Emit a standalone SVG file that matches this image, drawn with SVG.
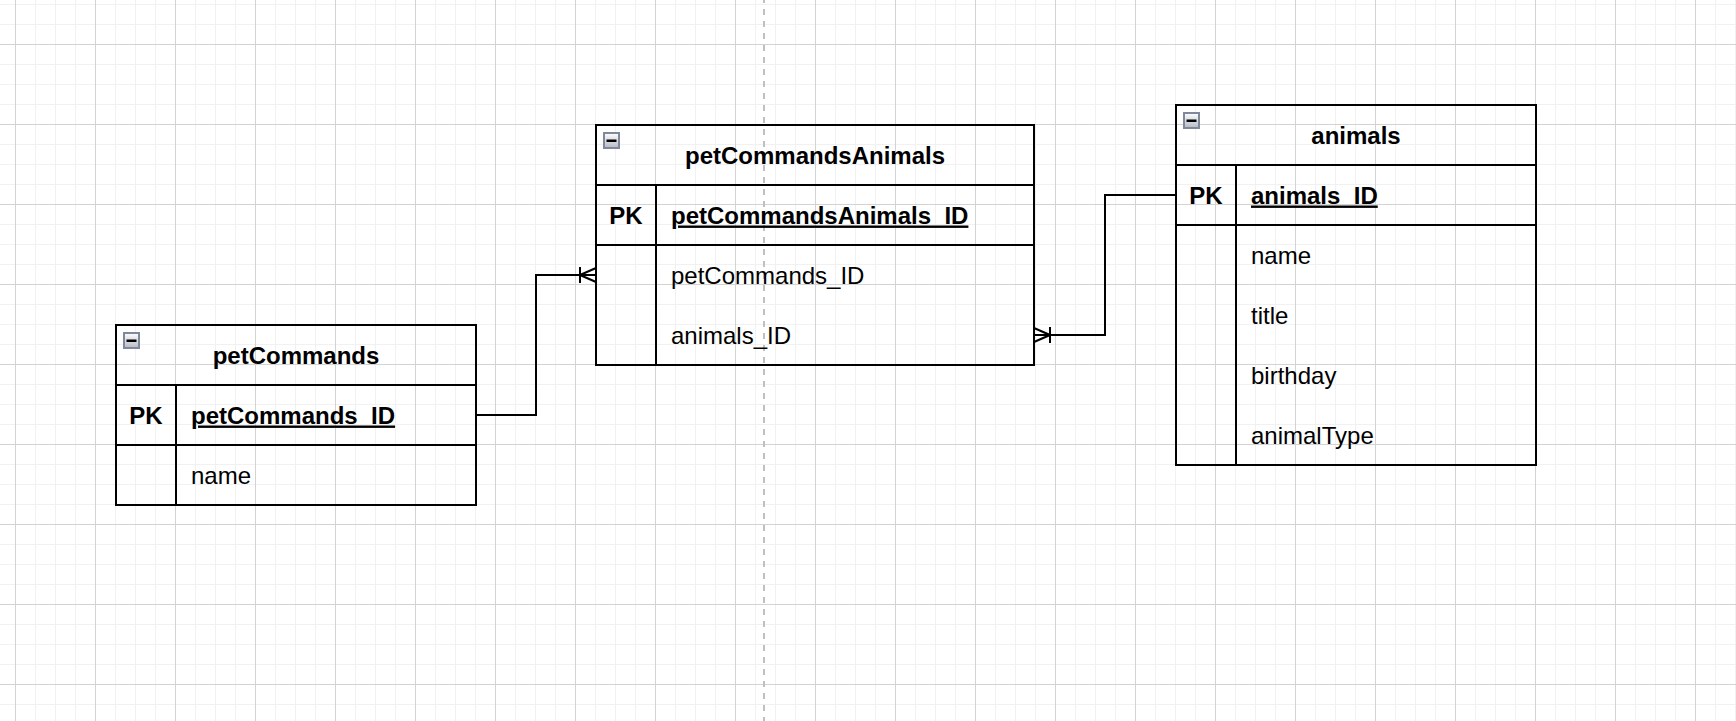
<svg xmlns="http://www.w3.org/2000/svg" width="1736" height="721" viewBox="0 0 1736 721">
<style>
.box{fill:none;stroke:#000;stroke-width:2}
.ln{stroke:#000;stroke-width:2;fill:none}
.t{font-family:"Liberation Sans",Arial,sans-serif;font-size:24px;fill:#000}
.b{font-weight:bold}
.c{text-anchor:middle}
.u{text-decoration:underline}
.edge{fill:none;stroke:#000;stroke-width:2}
</style>
<defs>
<pattern id="minor" x="15" y="4" width="20" height="20" patternUnits="userSpaceOnUse">
<path d="M0 0.5H20M0.5 0V20" stroke="#f1f1f1" stroke-width="1" fill="none"/>
</pattern>
<pattern id="major" x="15" y="44" width="80" height="80" patternUnits="userSpaceOnUse">
<path d="M0 0.5H80M0.5 0V80" stroke="#d3d3d3" stroke-width="1" fill="none"/>
</pattern>
<linearGradient id="ig" x1="0" y1="0" x2="0" y2="1">
<stop offset="0" stop-color="#ffffff"/>
<stop offset="1" stop-color="#b5b9c3"/>
</linearGradient>
<g id="icon">
<rect x="1" y="1" width="15" height="15" fill="url(#ig)" stroke="#7f899b" stroke-width="2"/>
<rect x="3.5" y="7.5" width="10" height="2.5" fill="#000"/>
</g>
</defs>
<rect width="1736" height="721" fill="#fff"/>
<rect width="1736" height="721" fill="url(#minor)"/>
<rect width="1736" height="721" fill="url(#major)"/>
<line x1="764" y1="-3" x2="764" y2="721" stroke="#c0c0c0" stroke-width="2" stroke-dasharray="6 6"/>

<g id="connectors">
<path class="edge" d="M476 415H536V275H596"/>
<path class="edge" d="M580 267V283M580 275L596 268M580 275L596 282"/>
<path class="edge" d="M1176 195H1105V335H1034"/>
<path class="edge" d="M1050 327V343M1050 335L1034 328M1050 335L1034 342"/>
</g>

<g id="petCommands">
<rect class="box" x="116" y="325" width="360" height="180"/>
<path class="ln" d="M116 385H476M116 445H476M176 385V505"/>
<use href="#icon" x="123" y="332"/>
<text class="t b c" x="296" y="363.5">petCommands</text>
<text class="t b c" x="146" y="423.5">PK</text>
<text class="t b u" x="191" y="423.5">petCommands_ID</text>
<text class="t" x="191" y="483.5">name</text>
</g>

<g id="petCommandsAnimals">
<rect class="box" x="596" y="125" width="438" height="240"/>
<path class="ln" d="M596 185H1034M596 245H1034M656 185V365"/>
<use href="#icon" x="603" y="132"/>
<text class="t b c" x="815" y="163.5">petCommandsAnimals</text>
<text class="t b c" x="626" y="223.5">PK</text>
<text class="t b u" x="671" y="223.5">petCommandsAnimals_ID</text>
<text class="t" x="671" y="283.5">petCommands_ID</text>
<text class="t" x="671" y="343.5">animals_ID</text>
</g>

<g id="animals">
<rect class="box" x="1176" y="105" width="360" height="360"/>
<path class="ln" d="M1176 165H1536M1176 225H1536M1236 165V465"/>
<use href="#icon" x="1183" y="112"/>
<text class="t b c" x="1356" y="143.5">animals</text>
<text class="t b c" x="1206" y="203.5">PK</text>
<text class="t b u" x="1251" y="203.5">animals_ID</text>
<text class="t" x="1251" y="263.5">name</text>
<text class="t" x="1251" y="323.5">title</text>
<text class="t" x="1251" y="383.5">birthday</text>
<text class="t" x="1251" y="443.5">animalType</text>
</g>
</svg>
